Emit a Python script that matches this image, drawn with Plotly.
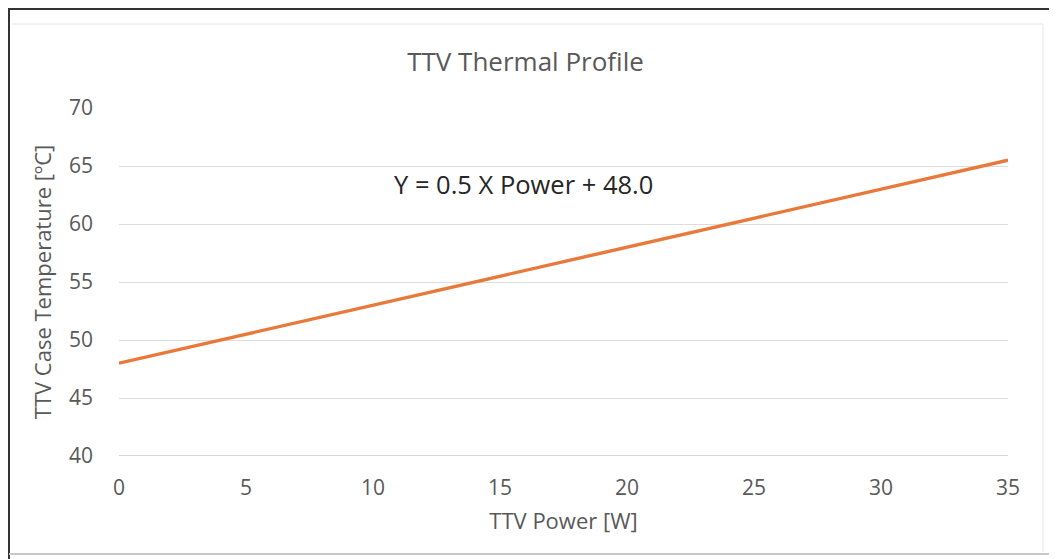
import plotly.graph_objects as go

power_w = [0, 35]
case_temp_c = [48.0, 65.5]
x_ticks = [0, 5, 10, 15, 20, 25, 30, 35]
y_ticks = [40, 45, 50, 55, 60, 65, 70]

W, H = 1057, 559
OFF = 8  # page body margin
L, R, T, B = 119 - OFF, 1008 - OFF, 108 - OFF, 456 - OFF

fig = go.Figure()
fig.add_trace(go.Scatter(x=power_w, y=case_temp_c, mode="lines",
                         line=dict(color="#E8793A", width=3.4), showlegend=False))

gray = "#595959"
fig.update_layout(
    width=W, height=H,
    margin=dict(l=L, r=W - R, t=T, b=H - B, pad=0),
    paper_bgcolor="white", plot_bgcolor="white",
    font=dict(family="Open Sans", color=gray, size=21),
    title=dict(text="TTV Thermal Profile", x=(525.5 - OFF) / W, xanchor="center",
               y=1 - (62 - OFF) / H, yanchor="middle", font=dict(size=26, color=gray)),
    xaxis=dict(range=[0, 35], tickvals=x_ticks, showgrid=False, zeroline=False,
               showline=False, ticks="", ticklabelstandoff=17,
               title=dict(text="TTV Power [W]", standoff=13, font=dict(size=22, color=gray)),
               tickfont=dict(size=21, color=gray)),
    yaxis=dict(range=[40, 70], tickvals=y_ticks, showgrid=True, gridcolor="#DDDDDD",
               gridwidth=1, zeroline=False, showline=False, ticks="", ticklabelstandoff=25,
               title=dict(text="TTV Case Temperature [ºC]", standoff=11, font=dict(size=22, color=gray)),
               tickfont=dict(size=21, color=gray)),
    annotations=[dict(x=15.94, y=63.45, xref="x", yref="y", text="Y = 0.5 X Power + 48.0",
                      showarrow=False, font=dict(size=25.5, color="#262626"))],
)

def px(xp):
    return (xp - OFF - L) / (R - L)

def py(yp):
    return (B - (yp - OFF)) / (B - T)

shapes = [
    # x axis line
    dict(type="line", xref="x", yref="y", x0=0, x1=35, y0=40, y1=40,
         line=dict(color="#C8C8C8", width=1.5)),
    # outer dark frame (top and left)
    dict(type="line", xref="paper", yref="paper", x0=px(8), x1=px(W + 8), y0=py(9), y1=py(9),
         line=dict(color="#333333", width=2)),
    dict(type="line", xref="paper", yref="paper", x0=px(9), x1=px(9), y0=py(8), y1=py(H + 8),
         line=dict(color="#333333", width=2)),
    # bottom gray frame line
    dict(type="line", xref="paper", yref="paper", x0=px(9), x1=px(W + 8), y0=py(554), y1=py(554),
         line=dict(color="#C8C8C8", width=2)),
    # faint top and right lines
    dict(type="line", xref="paper", yref="paper", x0=px(12), x1=px(1043), y0=py(24), y1=py(24),
         line=dict(color="#E6E6E6", width=1)),
    dict(type="line", xref="paper", yref="paper", x0=px(1043), x1=px(1043), y0=py(24), y1=py(552),
         line=dict(color="#E6E6E6", width=1)),
]
fig.update_layout(shapes=shapes)

fig.write_html("out.html")
